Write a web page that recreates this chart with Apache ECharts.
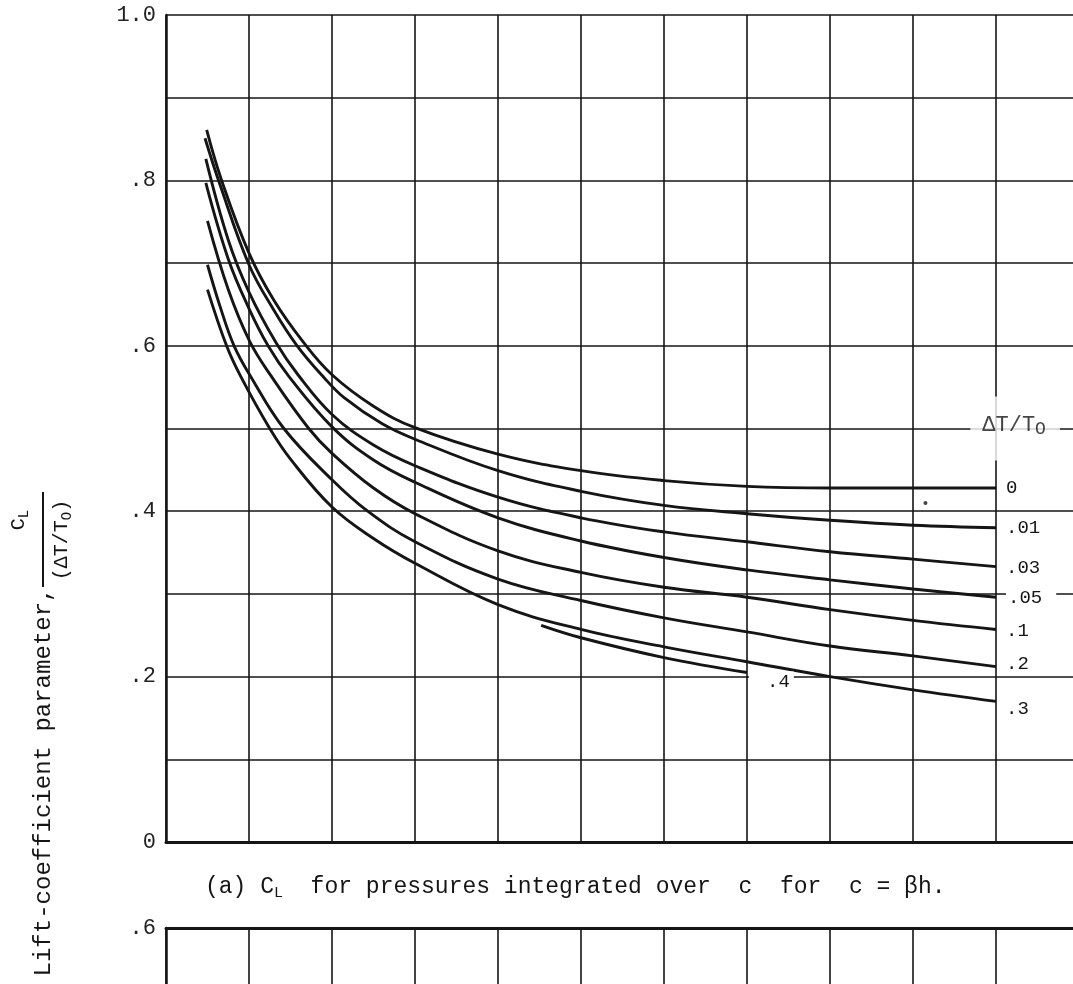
<!DOCTYPE html>
<html>
<head>
<meta charset="utf-8">
<script src="https://cdn.jsdelivr.net/npm/echarts@6/dist/echarts.min.js"></script>
<style>
  html, body { margin: 0; padding: 0; background: #fff; }
  #chart { width: 1073px; height: 984px; }
</style>
</head>
<body>
<div id="chart"></div>
<script>
// curve values, x in grid units, y = CL/(dT/T0)
const curveNames = ["0", ".01", ".03", ".05", ".1", ".2", ".3", ".4"];
const curve0 = [[0.49, 0.861], [0.67, 0.80], [1, 0.712], [1.3, 0.655], [1.65, 0.605], [2, 0.565], [2.5, 0.527], [3, 0.501], [4, 0.469], [5, 0.449], [6, 0.437], [7, 0.430], [8, 0.428], [9, 0.428], [10, 0.428]];
const curve01 = [[0.47, 0.851], [0.65, 0.795], [1, 0.698], [1.3, 0.643], [1.58, 0.60], [1.9, 0.562], [2.15, 0.537], [2.6, 0.506], [3, 0.487], [4, 0.449], [5, 0.424], [6, 0.407], [7, 0.397], [8, 0.389], [9, 0.383], [10, 0.380]];
const curve03 = [[0.48, 0.826], [0.75, 0.728], [1, 0.665], [1.33, 0.603], [1.59, 0.565], [2, 0.517], [2.5, 0.48], [3, 0.455], [4, 0.417], [5, 0.392], [6, 0.375], [7, 0.363], [8, 0.351], [9, 0.342], [10, 0.333]];
const curve05 = [[0.48, 0.797], [0.75, 0.705], [1, 0.645], [1.23, 0.60], [1.48, 0.563], [2, 0.502], [2.5, 0.462], [3, 0.435], [4, 0.392], [5, 0.364], [6, 0.344], [7, 0.329], [8, 0.317], [9, 0.306], [10, 0.296]];
const curve1 = [[0.5, 0.751], [0.75, 0.668], [1.01, 0.605], [1.27, 0.563], [1.72, 0.50], [2, 0.47], [2.5, 0.428], [3, 0.397], [4, 0.352], [5, 0.326], [6, 0.308], [7, 0.296], [8, 0.281], [9, 0.268], [10, 0.257]];
const curve2 = [[0.5, 0.698], [0.65, 0.648], [0.82, 0.60], [1.02, 0.563], [1.42, 0.50], [2, 0.438], [2.43, 0.40], [3, 0.363], [4, 0.318], [5, 0.292], [6, 0.271], [7, 0.254], [8, 0.237], [9, 0.225], [10, 0.212]];
const curve3 = [[0.5, 0.668], [0.73, 0.60], [0.9, 0.563], [1.25, 0.50], [1.5, 0.463], [2, 0.405], [2.5, 0.367], [3, 0.337], [4, 0.287], [5, 0.257], [6, 0.236], [7, 0.218], [8, 0.200], [9, 0.184], [10, 0.170]];
const curve4 = [[4.52, 0.262], [5, 0.247], [6, 0.223], [7, 0.205]];
const strayDot = [[9.15, 0.41]];
const headerPos = [[10.23, 0.5]];

const curves = [curve0, curve01, curve03, curve05, curve1, curve2, curve3, curve4];

const mono = '"Liberation Mono", "DejaVu Sans Mono", monospace';
const ink = "#151515";

// label placement tweaks per curve
const labelOffsets = [[0, 0], [0, 0], [0, 1], [0, 1], [0, 2], [0, -3], [0, 8], [0, 10]];

function tickFormat(v) {
  const r = Math.round(v * 10);
  if (r % 2) return "";
  if (r === 10) return "1.0";
  if (r === 0) return "0";
  return "." + r;
}

const chart = echarts.init(document.getElementById("chart"));

const series = curves.map((data, i) => {
  const endLabel = {
    show: true,
    formatter: curveNames[i],
    fontFamily: mono,
    fontSize: 19,
    color: ink,
    distance: 10,
    offset: labelOffsets[i],
  };
  if (curveNames[i] === ".05") {
    Object.assign(endLabel, { backgroundColor: "#fff", padding: [2, 14, 2, 2] });
  }
  if (curveNames[i] === ".4") {
    Object.assign(endLabel, { distance: 2, backgroundColor: "#fff", padding: [1, 4, 2, 18] });
  }
  return {
    name: curveNames[i],
    type: "line",
    xAxisIndex: 0,
    yAxisIndex: 0,
    data: data,
    symbol: "none",
    smooth: 0.4,
    lineStyle: { color: ink, width: 2.9 },
    endLabel: endLabel,
    z: 3,
  };
});

series.push({
  type: "scatter",
  xAxisIndex: 0,
  yAxisIndex: 0,
  data: strayDot,
  symbolSize: 4,
  itemStyle: { color: ink },
  z: 3,
});

series.push({
  type: "scatter",
  xAxisIndex: 0,
  yAxisIndex: 0,
  data: headerPos,
  symbolSize: 1,
  itemStyle: { color: "rgba(0,0,0,0)" },
  label: {
    show: true,
    position: "inside",
    formatter: "{m|ΔT/T}{s|O}",
    color: ink,
    textBorderWidth: 0,
    backgroundColor: "#fff",
    padding: [16, 14, 22, 12],
    rich: {
      m: { fontFamily: mono, fontSize: 22, color: ink, lineHeight: 26, textBorderWidth: 0 },
      s: { fontFamily: mono, fontSize: 18, color: ink, lineHeight: 8, verticalAlign: "bottom", textBorderWidth: 0 },
    },
  },
  z: 5,
});

const splitStyle = { show: true, lineStyle: { color: ink, width: 1.6 } };

const option = {
  animation: false,
  backgroundColor: "#fff",
  grid: [
    { left: 166, top: 15, width: 913, height: 827, outerBoundsMode: "none" },
    { left: 166, top: 928, width: 913, height: 496, outerBoundsMode: "none" },
  ],
  xAxis: [
    {
      gridIndex: 0,
      type: "value",
      min: 0,
      max: 11,
      interval: 1,
      axisLabel: { show: false },
      axisTick: { show: false },
      axisLine: { show: true, onZero: false, lineStyle: { color: ink, width: 3 } },
      splitLine: splitStyle,
    },
    {
      gridIndex: 1,
      type: "value",
      position: "top",
      min: 0,
      max: 11,
      interval: 1,
      axisLabel: { show: false },
      axisTick: { show: false },
      axisLine: { show: true, onZero: false, lineStyle: { color: ink, width: 3 } },
      splitLine: splitStyle,
    },
  ],
  yAxis: [
    {
      gridIndex: 0,
      type: "value",
      min: 0,
      max: 1,
      interval: 0.1,
      axisTick: { show: false },
      axisLine: { show: true, onZero: false, lineStyle: { color: ink, width: 2.5 } },
      axisLabel: {
        formatter: tickFormat,
        fontFamily: mono,
        fontSize: 22,
        color: "#222",
        margin: 10,
      },
      splitLine: splitStyle,
    },
    {
      gridIndex: 1,
      type: "value",
      min: 0,
      max: 0.6,
      interval: 0.1,
      axisTick: { show: false },
      axisLine: { show: true, onZero: false, lineStyle: { color: ink, width: 2.5 } },
      axisLabel: {
        formatter: (v) => (Math.round(v * 10) === 6 ? ".6" : ""),
        fontFamily: mono,
        fontSize: 22,
        color: "#222",
        margin: 10,
      },
      splitLine: splitStyle,
    },
  ],
  graphic: [
    {
      type: "text",
      x: 44,
      y: 782,
      rotation: Math.PI / 2,
      style: {
        text: "Lift-coefficient parameter,",
        font: '24px "Liberation Mono"',
        fill: ink,
        align: "center",
        verticalAlign: "middle",
      },
    },
    {
      type: "text",
      x: 19,
      y: 520,
      rotation: Math.PI / 2,
      style: {
        text: "{m|C}{s|L}",
        fill: ink,
        align: "center",
        verticalAlign: "middle",
        rich: {
          m: { fontFamily: mono, fontSize: 20, lineHeight: 24 },
          s: { fontFamily: mono, fontSize: 14, lineHeight: 8, verticalAlign: "bottom" },
        },
      },
    },
    {
      type: "line",
      shape: { x1: 43, y1: 492, x2: 43, y2: 587 },
      style: { stroke: ink, lineWidth: 2 },
    },
    {
      type: "text",
      x: 62,
      y: 540,
      rotation: Math.PI / 2,
      style: {
        text: "{m|(ΔT/T}{s|O}{m|)}",
        fill: ink,
        align: "center",
        verticalAlign: "middle",
        rich: {
          m: { fontFamily: mono, fontSize: 20, lineHeight: 24 },
          s: { fontFamily: mono, fontSize: 14, lineHeight: 8, verticalAlign: "bottom" },
        },
      },
    },
    {
      type: "text",
      x: 205,
      y: 887,
      style: {
        text: "{m|(a) C}{s|L}{m|  for pressures integrated over  c  for  c = βh.}",
        fill: ink,
        align: "left",
        verticalAlign: "middle",
        rich: {
          m: { fontFamily: mono, fontSize: 23, lineHeight: 28 },
          s: { fontFamily: mono, fontSize: 15, lineHeight: 8, verticalAlign: "bottom" },
        },
      },
    },
  ],
  series: series,
};

chart.setOption(option);

window.addEventListener("resize", () => {
  chart.resize();
});
</script>
</body>
</html>
